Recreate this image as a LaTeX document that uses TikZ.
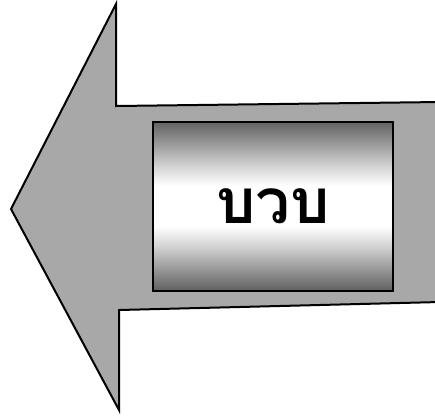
\documentclass[tikz,border=0pt]{standalone}
\usepackage{fontspec}
\newfontfamily\thaifont[Script=Thai]{Loma}
\pgfdeclareverticalshading{metalband}{100bp}{
  color(0bp)=(black!62);
  color(25bp)=(black!62);
  color(38bp)=(black!18);
  color(44bp)=(white);
  color(56bp)=(white);
  color(62bp)=(black!18);
  color(75bp)=(black!62);
  color(100bp)=(black!62)}
\begin{document}
\begin{tikzpicture}[x=1pt,y=-1pt,
  arrowbody/.style={draw=black,line width=2pt,fill=black!34,line join=miter},
  labelbox/.style={draw=black,line width=2pt,minimum width=240pt,minimum height=169pt,
    shading=metalband,inner sep=0pt,
    font=\thaifont\fontsize{62}{62}\selectfont\bfseries}
]
\useasboundingbox (0,0) rectangle (435,416);
\fill[white] (0,0) rectangle (435,416);
\draw[arrowbody] (440,102) -- (116,106) -- (116,4) -- (11,209) -- (119,410) -- (119,310) -- (440,302);
\node[labelbox] (box) at (273,206) {บวบ};
\end{tikzpicture}
\end{document}
